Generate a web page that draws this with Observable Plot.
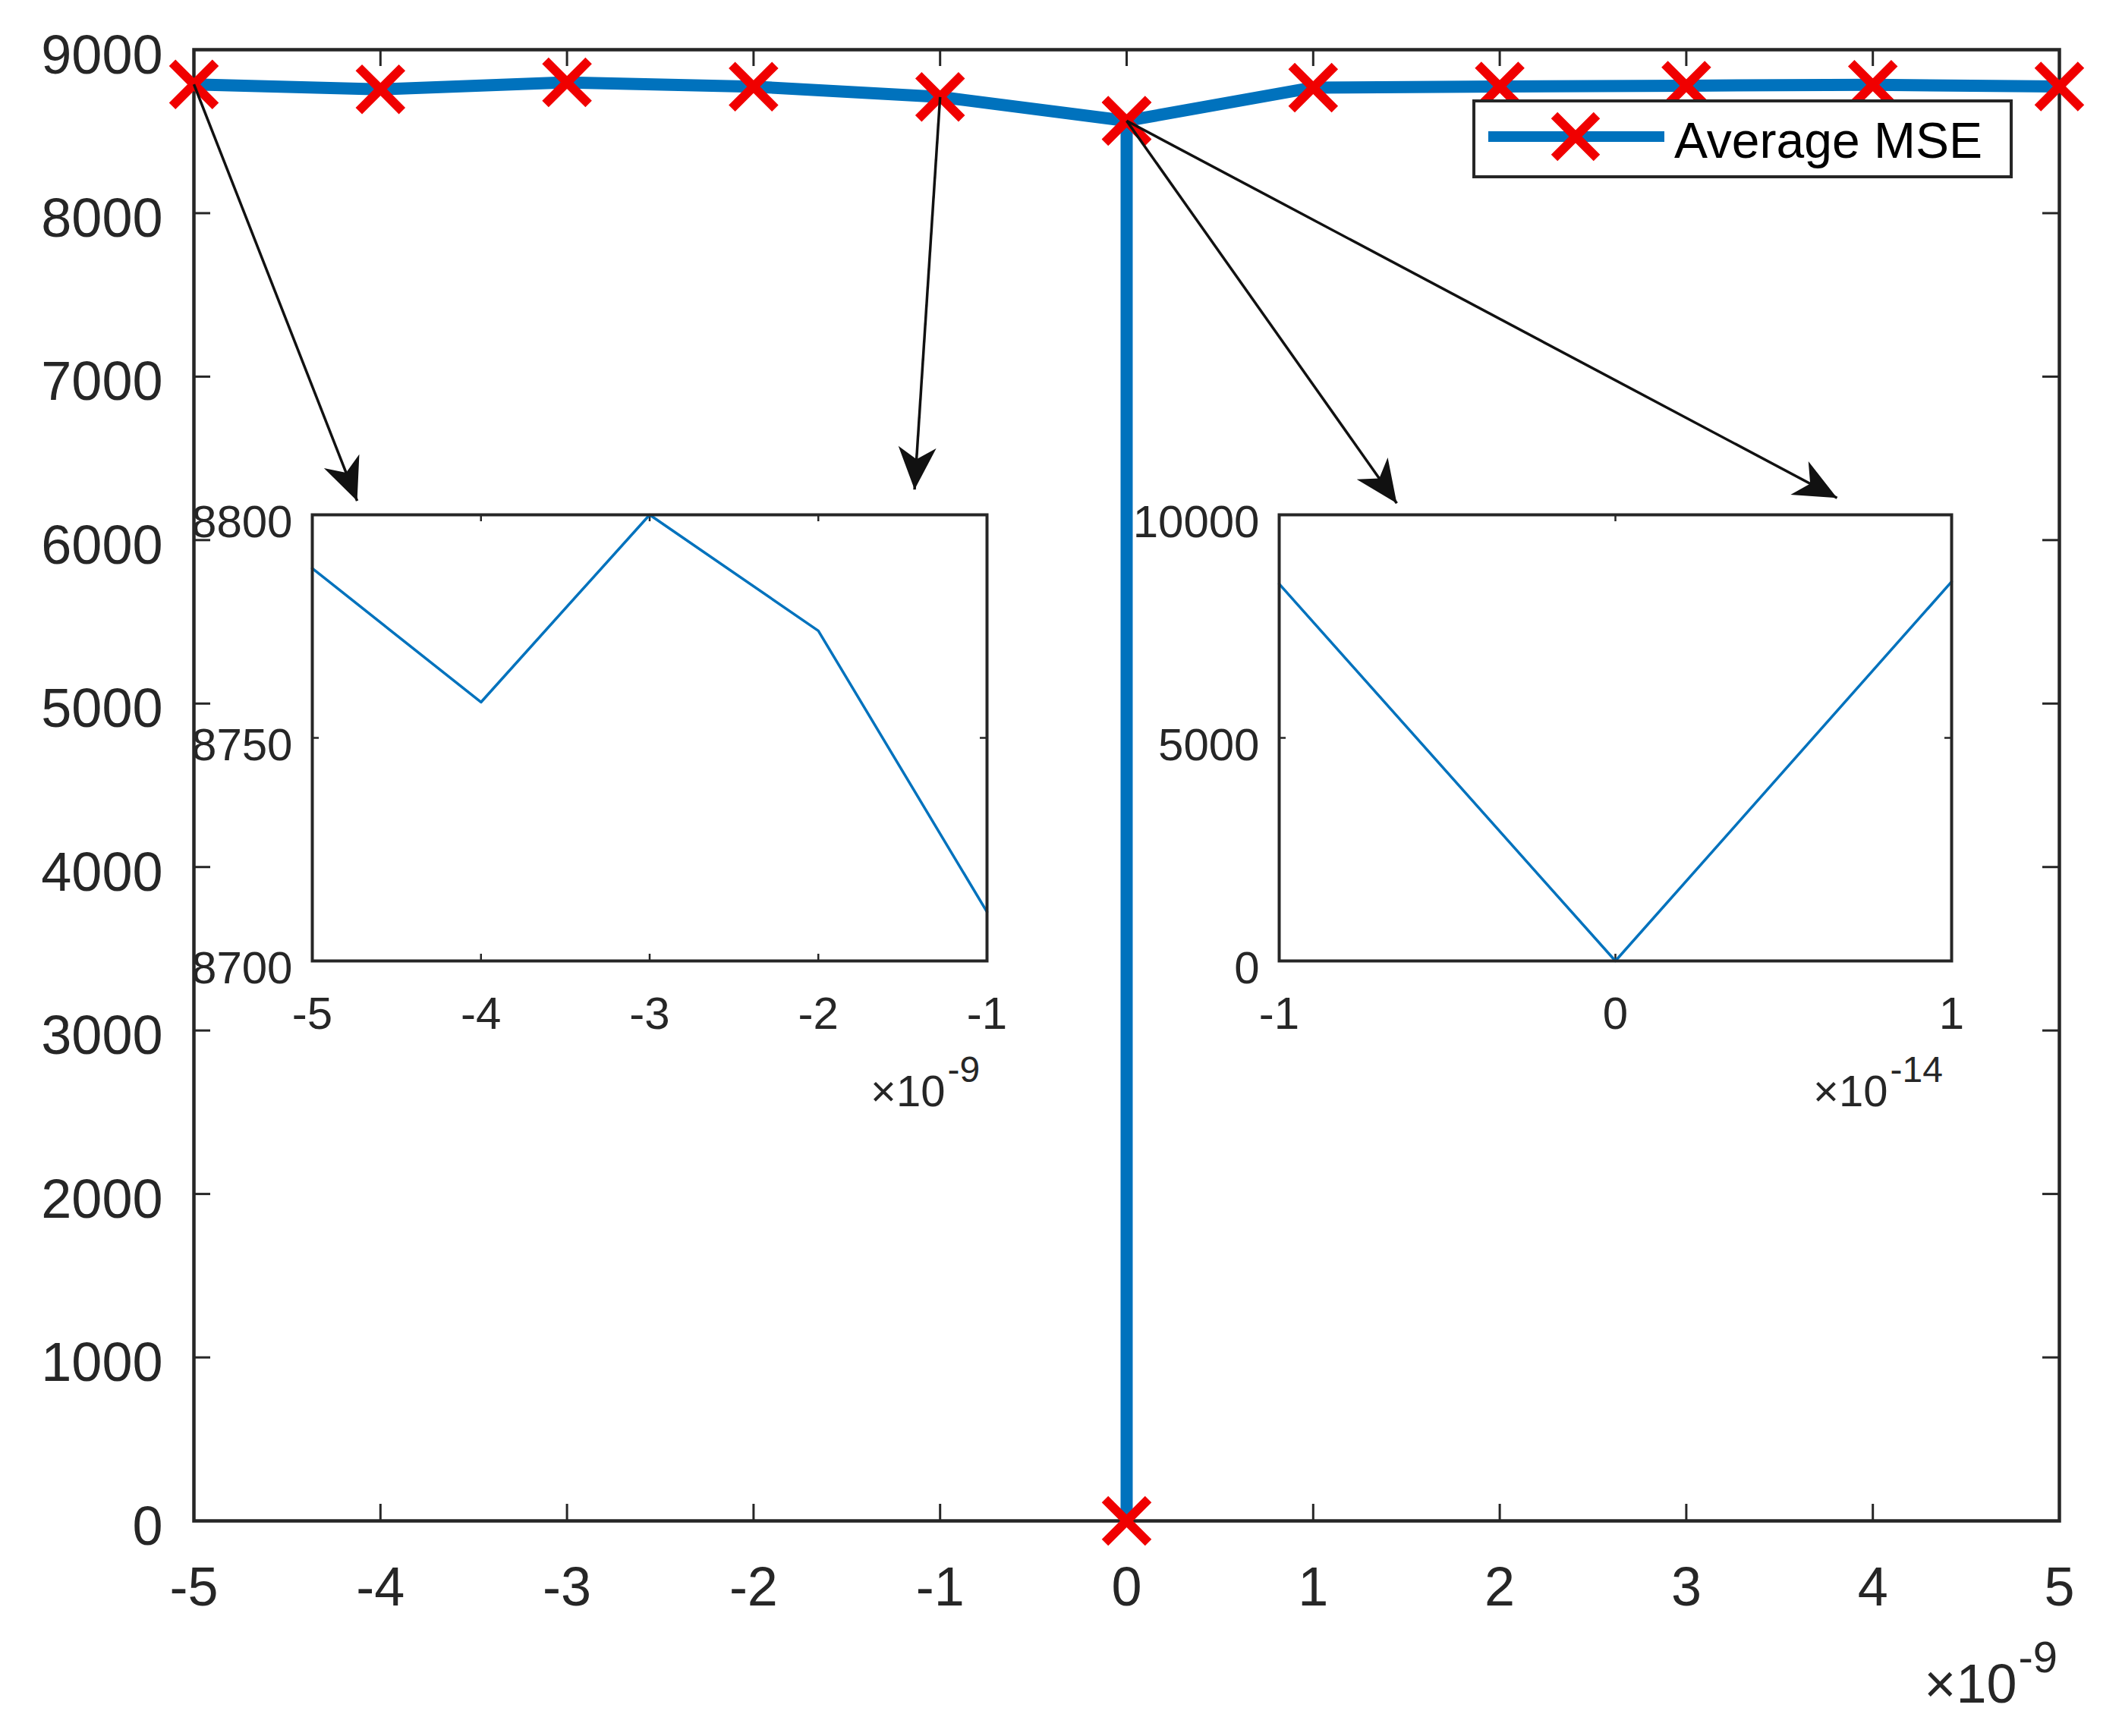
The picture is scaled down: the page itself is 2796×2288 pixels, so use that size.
<!DOCTYPE html>
<html><head><meta charset="utf-8">
<script src="https://cdn.jsdelivr.net/npm/d3@7"></script>
<script src="https://cdn.jsdelivr.net/npm/@observablehq/plot@0.6"></script>
<style>
html,body{margin:0;padding:0;background:#fff;}
#wrap{position:relative;width:2796px;height:2288px;overflow:hidden;font-family:"Liberation Sans",Arial,Helvetica,sans-serif;}
#wrap svg{position:absolute;left:0;top:0;}
</style></head><body><div id="wrap"></div>
<script>
// ---------- data ----------
const xTicks = [-5,-4,-3,-2,-1,0,1,2,3,4,5];                 // ×10^-9
const yTicks = [0,1000,2000,3000,4000,5000,6000,7000,8000,9000];
const xMain = [-5,-4,-3,-2,-1,-1e-5,0,1e-5,1,2,3,4,5];        // ×10^-9
const mseMain = [8788,8758,8800,8774,8711,8565,0,8565,8768,8775,8780,8785,8775];

const xLeftInset = [-5,-4,-3,-2,-1];                          // ×10^-9
const mseLeftInset = [8788,8758,8800,8774,8711];
const xLeftTicks = [-5,-4,-3,-2,-1];
const yLeftTicks = [8700,8750,8800];

const xRightInset = [-1,0,1];                                 // ×10^-14
const mseRightInset = [8450,0,8500];
const xRightTicks = [-1,0,1];
const yRightTicks = [0,5000,10000];

const arrowX1 = [-5,-1,0,0];
const arrowY1 = [8788,8711,8565,8565];
const arrowX2 = [-4.125,-1.137,1.448,3.808];
const arrowY2 = [6240,6309,6226,6258];

const legendLabel = "Average MSE";

// ---------- style ----------
const FONT = "'Liberation Sans', Arial, Helvetica, sans-serif";
const AX = "#262626";
const BLUE = "#0072BD";
const RED = "#f00000";
const wrap = document.getElementById("wrap");
const fmt = d => String(d);

// ---------- main chart ----------
const W = 2796, H = 2288;
const mL = 255, mR = 83, mT = 65, mB = 284;
const plotW = W - mL - mR, plotH = H - mT - mB;
const base = {
  width: W, height: H, marginLeft: mL, marginRight: mR, marginTop: mT, marginBottom: mB,
  x: {domain: [-5, 5], axis: null}, y: {domain: [0, 9000], axis: null},
  style: {fontFamily: FONT, background: "transparent", overflow: "visible", color: AX}
};
// probe pass to obtain the scales for arrowhead orientation
const probe = Plot.plot({...base, marks: [Plot.frame()]});
const psx = probe.scale("x"), psy = probe.scale("y");
const sx = d3.scaleLinear().domain(psx.domain).range(psx.range);
const sy = d3.scaleLinear().domain(psy.domain).range(psy.range);
const arrowIdx = arrowX1.map((_, i) => i);
const arrowAngle = arrowIdx.map(i => {
  const dx = sx(arrowX2[i]) - sx(arrowX1[i]);
  const dy = sy(arrowY2[i]) - sy(arrowY1[i]);
  return Math.atan2(dx, -dy) * 180 / Math.PI;
});
const headSymbol = {
  draw(ctx) {
    ctx.moveTo(0, 0); ctx.lineTo(25, 56); ctx.lineTo(0, 40); ctx.lineTo(-25, 56); ctx.closePath();
  }
};
const mainIdx = xMain.map((_, i) => i);
const TL = 22;
const main = Plot.plot({
  ...base,
  marks: [
    Plot.frame({stroke: AX, strokeWidth: 4.5}),
    Plot.ruleX(xTicks, {x: d => d, insetTop: plotH - TL, stroke: AX, strokeWidth: 3}),
    Plot.ruleX(xTicks, {x: d => d, insetBottom: plotH - TL, stroke: AX, strokeWidth: 3}),
    Plot.ruleY(yTicks, {y: d => d, insetRight: plotW - TL, stroke: AX, strokeWidth: 3}),
    Plot.ruleY(yTicks, {y: d => d, insetLeft: plotW - TL, stroke: AX, strokeWidth: 3}),
    Plot.text(xTicks, {x: d => d, text: fmt, frameAnchor: "bottom", dy: 88, lineAnchor: "middle", fontSize: 72, fill: AX}),
    Plot.text(yTicks, {y: d => d, text: fmt, frameAnchor: "left", textAnchor: "end", dx: -41, dy: 8, lineAnchor: "middle", fontSize: 72, fill: AX}),
    Plot.text(["×10"], {text: d => d, frameAnchor: "bottom-right", textAnchor: "end", lineAnchor: "bottom", dx: -56, dy: 239, fontSize: 72, fill: AX}),
    Plot.text(["-9"], {text: d => d, frameAnchor: "bottom-right", textAnchor: "start", lineAnchor: "bottom", dx: -54, dy: 199, fontSize: 58, fill: AX}),
    Plot.line(mainIdx, {x: i => xMain[i], y: i => mseMain[i], stroke: BLUE, strokeWidth: 16, strokeLinejoin: "round"}),
    Plot.dot(mainIdx, {x: i => xMain[i], y: i => mseMain[i], symbol: "times", r: 26, stroke: RED, strokeWidth: 12}),
    Plot.link(arrowIdx, {x1: i => arrowX1[i], y1: i => arrowY1[i], x2: i => arrowX2[i], y2: i => arrowY2[i], stroke: "#111", strokeWidth: 3.5}),
    Plot.dot(arrowIdx, {x: i => arrowX2[i], y: i => arrowY2[i], symbol: headSymbol, rotate: i => arrowAngle[i], fill: "#111", stroke: "none", r: 10})
  ]
});
wrap.appendChild(main);

// ---------- insets ----------
function inset({xs, ys, xDomain, yDomain, xT, yT, expo, frameW, frameH, left, top, expoDx}) {
  const iL = 230, iR = 30, iT = 30, iB = 200;
  const TLi = 9;
  const idx = xs.map((_, i) => i);
  const svg = Plot.plot({
    width: frameW + iL + iR, height: frameH + iT + iB,
    marginLeft: iL, marginRight: iR, marginTop: iT, marginBottom: iB,
    x: {domain: xDomain, axis: null}, y: {domain: yDomain, axis: null},
    style: {fontFamily: FONT, background: "transparent", overflow: "visible", color: AX},
    marks: [
      Plot.frame({fill: "white", stroke: "none"}),
      Plot.ruleX(xT, {x: d => d, insetTop: frameH - TLi, stroke: AX, strokeWidth: 2.5}),
      Plot.ruleX(xT, {x: d => d, insetBottom: frameH - TLi, stroke: AX, strokeWidth: 2.5}),
      Plot.ruleY(yT, {y: d => d, insetRight: frameW - TLi, stroke: AX, strokeWidth: 2.5}),
      Plot.ruleY(yT, {y: d => d, insetLeft: frameW - TLi, stroke: AX, strokeWidth: 2.5}),
      Plot.line(idx, {x: i => xs[i], y: i => ys[i], stroke: BLUE, strokeWidth: 3.5}),
      Plot.frame({stroke: AX, strokeWidth: 4}),
      Plot.text(xT, {x: d => d, text: fmt, frameAnchor: "bottom", dy: 70, lineAnchor: "middle", fontSize: 60, fill: AX}),
      Plot.text(yT, {y: d => d, text: fmt, frameAnchor: "left", textAnchor: "end", dx: -26, dy: 10, lineAnchor: "middle", fontSize: 60, fill: AX}),
      Plot.text(["×10"], {text: d => d, frameAnchor: "bottom-right", textAnchor: "end", lineAnchor: "bottom", dx: expoDx, dy: 191, fontSize: 58, fill: AX}),
      Plot.text([expo], {text: d => d, frameAnchor: "bottom-right", textAnchor: "start", lineAnchor: "bottom", dx: expoDx + 3, dy: 159, fontSize: 48, fill: AX})
    ]
  });
  svg.style.left = (left - iL) + "px";
  svg.style.top = (top - iT) + "px";
  wrap.appendChild(svg);
}
inset({xs: xLeftInset, ys: mseLeftInset, xDomain: [-5, -1], yDomain: [8700, 8800], xT: xLeftTicks, yT: yLeftTicks,
  expo: "-9", frameW: 889, frameH: 588, left: 411, top: 678, expoDx: -55});
inset({xs: xRightInset, ys: mseRightInset, xDomain: [-1, 1], yDomain: [0, 10000], xT: xRightTicks, yT: yRightTicks,
  expo: "-14", frameW: 886, frameH: 588, left: 1685, top: 678, expoDx: -84});

// ---------- legend ----------
const lg = d3.select(wrap).append("svg")
  .attr("width", 712).attr("height", 104)
  .style("left", "1940px").style("top", "131px");
lg.append("rect").attr("x", 2).attr("y", 2).attr("width", 708).attr("height", 100)
  .attr("fill", "white").attr("stroke", AX).attr("stroke-width", 4);
lg.append("line").attr("x1", 21).attr("x2", 253).attr("y1", 49).attr("y2", 49)
  .attr("stroke", BLUE).attr("stroke-width", 14);
lg.append("path").attr("d", "M108,21L164,77M108,77L164,21")
  .attr("stroke", RED).attr("stroke-width", 12).attr("fill", "none");
lg.append("text").attr("x", 266).attr("y", 77).attr("font-size", 66)
  .attr("font-family", FONT).attr("fill", "#000").text(legendLabel);
</script>
</body></html>
